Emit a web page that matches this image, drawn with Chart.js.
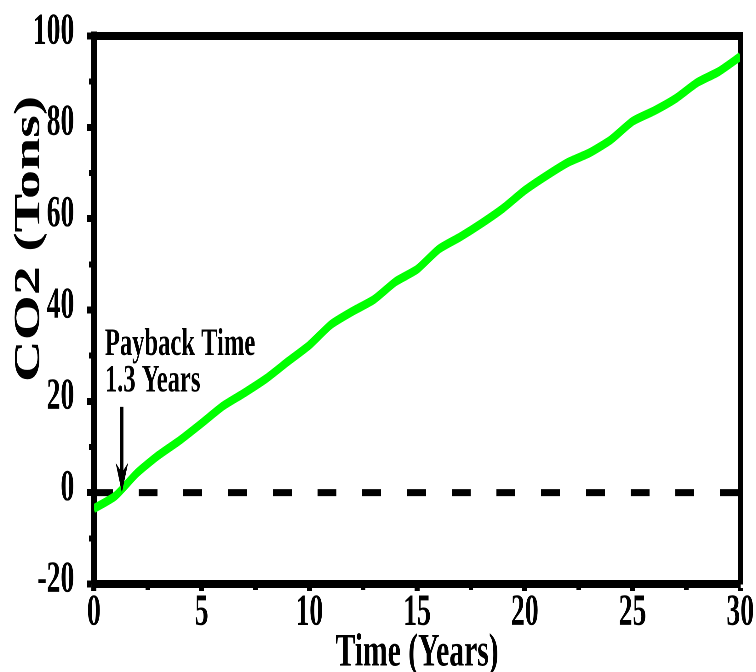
<!DOCTYPE html>
<html>
<head>
<meta charset="utf-8">
<title>CO2 payback</title>
<script src="https://cdn.jsdelivr.net/npm/chart.js@4.4.1/dist/chart.umd.min.js"></script>
<style>
    html, body { margin: 0; padding: 0; overflow: hidden; background: #fff; }
    /* the original figure is squashed sideways, so draw wide and squeeze */
    #wrap { width: 1200px; height: 672px; transform: scaleX(0.63); transform-origin: 0 0; }
</style>
</head>
<body>
<div id="wrap"><canvas id="co2-chart"></canvas></div>
<script>
const years = [0, 1, 2, 3, 4, 5, 6, 7, 8, 9, 10, 11, 12, 13, 14, 15,
    16, 17, 18, 19, 20, 21, 22, 23, 24, 25, 26, 27, 28, 29, 30];
const co2Tons = [-3.5, -0.7, 4.3, 8.2, 11.5, 15.2, 19.0, 21.9, 25.0, 28.7, 32.3,
    36.8, 39.7, 42.3, 46.2, 48.9, 53.3, 56.0, 59.0, 62.3, 66.2,
    69.4, 72.3, 74.4, 77.3, 81.3, 83.6, 86.3, 89.8, 92.2, 95.5];

const zeroLineYears = [0, 30];
const zeroLineTons = [0, 0];

const xTickValues = [0, 5, 10, 15, 20, 25, 30];
const xMinorTickValues = [2.5, 7.5, 12.5, 17.5, 22.5, 27.5];
const yTickValues = [-20, 0, 20, 40, 60, 80, 100];
const yMinorTickValues = [-10, 10, 30, 50, 70, 90];

const paybackYears = 1.3;
const paybackLabel = ['Payback Time', '1.3 Years'];
const yTitle = 'CO2 (Tons)';
const xTitle = 'Time (Years)';

const fontFamily = "'Liberation Serif', 'Times New Roman', serif";

function fixedTicks(values){
    return function(scale){
        scale.ticks = values.map(v => ({value: v}));
    };
}
function fixedWidth(w){
    return function(scale){ scale.width = w; };
}
function fixedHeight(h){
    return function(scale){
        scale.height = h;
        // let the "30" label hang past the frame like the original
        scale.paddingLeft = 0;
        scale.paddingRight = 0;
    };
}

// arrow, note text and the rotated y title
const paybackNote = {
    id: 'paybackNote',
    afterDatasetsDraw: function(chart){
        const ctx = chart.ctx;
        const x = chart.scales.x;
        const y = chart.scales.y;
        const tipX = x.getPixelForValue(paybackYears);
        const tipY = y.getPixelForValue(0);
        const tailY = y.getPixelForValue(18.8);

        ctx.save();
        ctx.strokeStyle = '#000';
        ctx.fillStyle = '#000';
        ctx.lineWidth = 5;
        ctx.beginPath();
        ctx.moveTo(tipX, tailY);
        ctx.lineTo(tipX, tipY - 18);
        ctx.stroke();

        ctx.beginPath();
        ctx.moveTo(tipX, tipY);
        ctx.lineTo(tipX - 10, tipY - 30);
        ctx.lineTo(tipX, tipY - 20);
        ctx.lineTo(tipX + 10, tipY - 30);
        ctx.closePath();
        ctx.fill();

        ctx.font = 'bold 39px ' + fontFamily;
        ctx.textAlign = 'left';
        ctx.textBaseline = 'alphabetic';
        const textX = x.getPixelForValue(0.51);
        ctx.fillText(paybackLabel[0], textX, y.getPixelForValue(30.2));
        ctx.fillText(paybackLabel[1], textX, y.getPixelForValue(22.1));
        ctx.restore();
    },
    afterDraw: function(chart){
        const ctx = chart.ctx;
        ctx.save();
        ctx.translate(62, 239);
        ctx.rotate(-Math.PI / 2);
        ctx.font = 'bold 58px ' + fontFamily;
        ctx.fillStyle = '#000';
        ctx.textAlign = 'center';
        ctx.textBaseline = 'alphabetic';
        ctx.fillText(yTitle, 0, 0);
        ctx.restore();
    }
};

// small lineHeight so the label overflow does not push the plot down
const tickFont = {family: fontFamily, size: 44, weight: 'bold', lineHeight: 0.6};

const ctx = document.querySelector('#co2-chart').getContext('2d');
const co2Chart = new Chart(ctx, {
    type: 'line',
    data: {
        datasets: [
            {
                label: 'CO2',
                data: years.map((t, i) => ({x: t, y: co2Tons[i]})),
                borderColor: '#00ff00',
                borderWidth: 9,
                borderCapStyle: 'butt',
                pointRadius: 0,
                tension: 0.2,
                fill: false,
                order: 0
            },
            {
                label: 'zero',
                data: zeroLineYears.map((t, i) => ({x: t, y: zeroLineTons[i]})),
                borderColor: '#000',
                borderWidth: 7,
                borderDash: [30, 41],
                borderCapStyle: 'butt',
                pointRadius: 0,
                fill: false,
                order: 1
            }
        ]
    },
    plugins: [paybackNote],
    options: {
        responsive: true,
        maintainAspectRatio: false,
        devicePixelRatio: 2,
        animation: false,
        layout: {
            padding: {top: 36, right: 25, bottom: 0, left: 0}
        },
        plugins: {
            legend: {display: false},
            tooltip: {enabled: false}
        },
        scales: {
            x: {
                type: 'linear',
                position: 'bottom',
                min: 0,
                max: 30,
                weight: 1,
                afterBuildTicks: fixedTicks(xTickValues),
                afterFit: fixedHeight(88),
                grid: {drawOnChartArea: false, tickLength: 7, tickWidth: 8, tickColor: '#000'},
                border: {display: true, width: 8, color: '#000'},
                ticks: {color: '#000', font: tickFont, padding: 9, maxRotation: 0, autoSkip: false},
                title: {
                    display: true,
                    text: xTitle,
                    color: '#000',
                    font: {family: fontFamily, size: 47, weight: 'bold', lineHeight: 0.8},
                    padding: {top: 0, bottom: 0}
                }
            },
            xMinor: {
                type: 'linear',
                position: 'bottom',
                min: 0,
                max: 30,
                weight: 0,
                afterBuildTicks: fixedTicks(xMinorTickValues),
                afterFit: fixedHeight(0),
                grid: {drawOnChartArea: false, tickLength: 6, tickWidth: 7, tickColor: '#000'},
                border: {display: false},
                ticks: {display: false}
            },
            xTop: {
                type: 'linear',
                position: 'top',
                min: 0,
                max: 30,
                afterFit: fixedHeight(0),
                grid: {display: false},
                border: {display: true, width: 8, color: '#000'},
                ticks: {display: false}
            },
            y: {
                type: 'linear',
                position: 'left',
                min: -20,
                max: 100,
                weight: 1,
                afterBuildTicks: fixedTicks(yTickValues),
                afterFit: fixedWidth(149),
                grid: {drawOnChartArea: false, tickLength: 11, tickWidth: 7, tickColor: '#000'},
                border: {display: true, width: 9.5, color: '#000'},
                ticks: {color: '#000', font: tickFont, padding: 20, labelOffset: -4}
            },
            yMinor: {
                type: 'linear',
                position: 'left',
                min: -20,
                max: 100,
                weight: 0,
                afterBuildTicks: fixedTicks(yMinorTickValues),
                afterFit: fixedWidth(0),
                grid: {drawOnChartArea: false, tickLength: 8, tickWidth: 6, tickColor: '#000'},
                border: {display: false},
                ticks: {display: false}
            },
            yRight: {
                type: 'linear',
                position: 'right',
                min: -20,
                max: 100,
                afterFit: fixedWidth(0),
                grid: {display: false},
                border: {display: true, width: 8, color: '#000'},
                ticks: {display: false}
            }
        }
    }
});
</script>
</body>
</html>
